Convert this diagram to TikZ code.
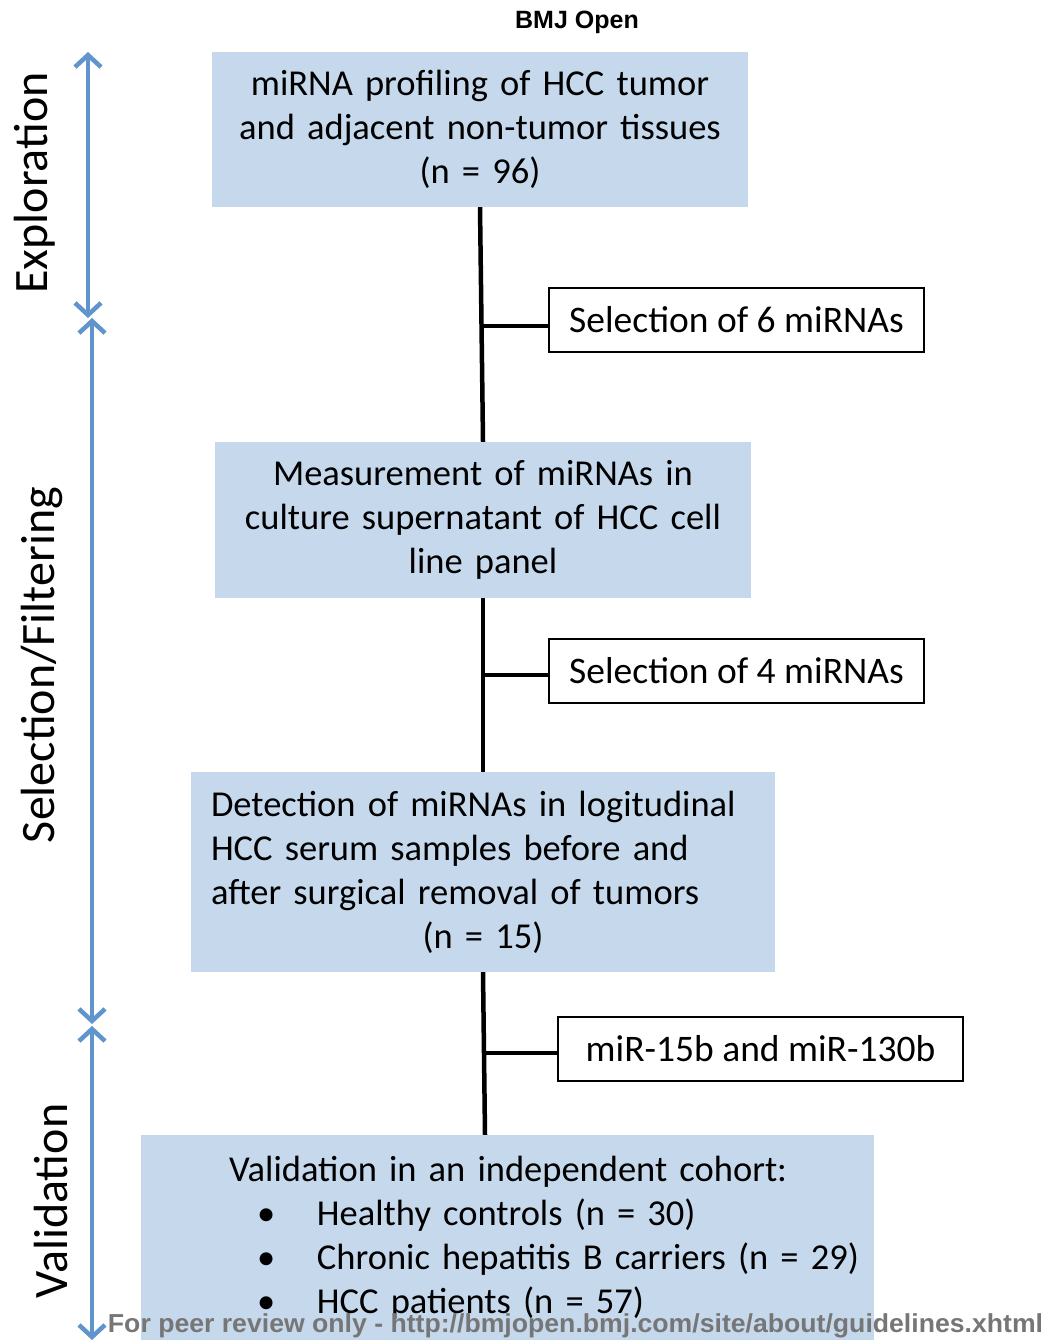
\documentclass[tikz,border=0pt]{standalone}
\usepackage{fontspec}
\usepackage{graphicx}
\setmainfont{Carlito}
\newfontfamily\arialfont{Liberation Sans}
\usetikzlibrary{arrows.meta,positioning}

\definecolor{boxblue}{RGB}{197,216,236}
\definecolor{phaseblue}{RGB}{96,148,204}
\definecolor{footgray}{RGB}{118,118,118}

\tikzset{
  stage/.style={fill=boxblue, inner sep=0pt, font=\fontsize{36.5}{44}\selectfont},
  pick/.style={draw=black, line width=1.6pt, fill=white, inner sep=0pt,
    minimum height=64pt, font=\fontsize{37.5}{44}\selectfont},
  trunk/.style={line width=4.5pt},
  phase/.style={draw=phaseblue, line width=4.5pt,
    {Straight Barb[length=12pt,width=26pt]}-{Straight Barb[length=12pt,width=26pt]}},
  phaselabel/.style={rotate=90, inner sep=0pt, font=\fontsize{48}{48}\selectfont}
}

\begin{document}
\begin{tikzpicture}[x=1pt,y=-1pt]
\useasboundingbox (0,0) rectangle (1048,1340);
%header
\node[font=\arialfont\bfseries\fontsize{25}{25}\selectfont] (head) at (577,22) {BMJ Open};
% main stages
\node[stage, minimum width=536pt, minimum height=155pt, text width=500pt, align=center] (prof) at (480,129.5)
  {miRNA profiling of HCC tumor\\ and adjacent non-tumor tissues\\ (n = 96)};
\node[stage, minimum width=536pt, minimum height=156pt, text width=500pt, align=center] (meas) at (483,520)
  {Measurement of miRNAs in\\ culture supernatant of HCC cell\\ line panel};
\node[stage, minimum width=584pt, minimum height=200pt, text width=544pt, align=left] (detect) at (483,872)
  {Detection of miRNAs in logitudinal\\ HCC serum samples before and\\ after surgical removal of tumors\\
   \makebox[544pt]{(n = 15)}};
\node[stage, minimum width=733pt, minimum height=205pt, text width=557pt, align=left] (valid) at (507.5,1237.5)
  {\makebox[0pt][l]{Validation in an independent cohort:}\\
   \makebox[0pt][l]{\hspace*{28pt}\makebox[60pt][l]{\textbullet}Healthy controls (n = 30)}\\
   \makebox[0pt][l]{\hspace*{28pt}\makebox[60pt][l]{\textbullet}Chronic hepatitis B carriers (n = 29)}\\
   \makebox[0pt][l]{\hspace*{28pt}\makebox[60pt][l]{\textbullet}HCC patients (n = 57)}};
% selection boxes
\node[pick, minimum width=375pt] (sel6) at (736.5,320) {Selection of 6 miRNAs};
\node[pick, minimum width=375pt] (sel4) at (736.5,671) {Selection of 4 miRNAs};
\node[pick, minimum width=405pt] (sel2) at (760.5,1049) {miR-15b and miR-130b};
% trunk between stages
\draw[trunk] (prof.south) -- (meas.north);
\draw[trunk] (meas.south) -- (meas.south |- detect.north);
\draw[trunk] (detect.south) -- ([xshift=2pt]detect.south |- valid.north);
% branches to the selection boxes
\coordinate (j6) at ([yshift=-6pt]sel6.west);
\coordinate (j4) at ([yshift=-4pt]sel4.west);
\coordinate (j2) at ([yshift=-4pt]sel2.west);
\draw[trunk] (j6) -- (j6 -| prof.south);
\draw[trunk] (j4) -- (j4 -| meas.south);
\draw[trunk] (j2) -- ([xshift=2pt]j2 -| detect.south);
% phases on the left
\coordinate (exTop) at (88,52);
\coordinate (exBot) at (88,318);
\coordinate (sfTop) at (92,318);
\coordinate (sfBot) at (92,1024);
\coordinate (vaTop) at (92,1026);
\coordinate (vaBot) at (92,1340);
\draw[phase] (exTop) -- (exBot);
\draw[phase] (sfTop) -- (sfBot);
\draw[phase] (vaTop) -- (vaBot);
\node[phaselabel] (exLab) at (35,183) {Exploration};
\node[phaselabel] (sfLab) at (42,665) {Selection/Filtering};
\node[phaselabel] (vaLab) at (51,1201) {Validation};
% footer over the last box
\node[text=footgray, font=\arialfont\bfseries\fontsize{26}{26}\selectfont] (foot) at (575.5,1326)
  {\resizebox{935pt}{\height}{For peer review only - http://bmjopen.bmj.com/site/about/guidelines.xhtml}};
\end{tikzpicture}
\end{document}
